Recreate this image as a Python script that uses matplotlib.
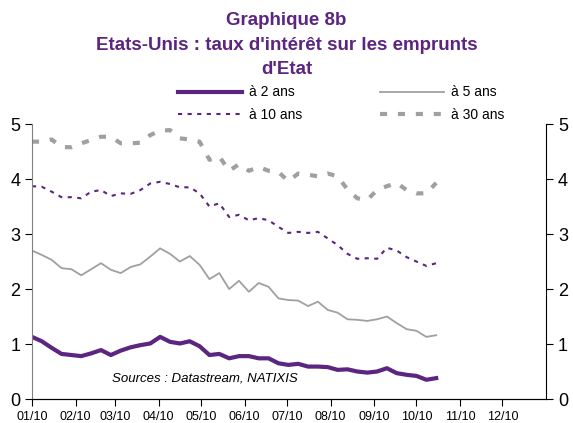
import matplotlib
matplotlib.use("Agg")
import matplotlib.pyplot as plt
import matplotlib.dates as mdates
import pandas as pd

plt.rcParams['font.family'] = ['Liberation Sans', 'DejaVu Sans']

# weekly observations, 2010
dates = pd.date_range("2010-01-01", periods=42, freq="7D")
months = pd.date_range("2010-01-01", periods=12, freq="MS")

rate_2y = [1.13, 1.05, 0.93, 0.82, 0.80, 0.78, 0.83, 0.89, 0.80, 0.88,
           0.94, 0.98, 1.01, 1.13, 1.04, 1.01, 1.05, 0.96, 0.80, 0.82,
           0.74, 0.78, 0.78, 0.74, 0.74, 0.65, 0.62, 0.64, 0.59, 0.59,
           0.58, 0.53, 0.54, 0.50, 0.48, 0.50, 0.56, 0.47, 0.44, 0.42,
           0.35, 0.38]
rate_5y = [2.70, 2.62, 2.53, 2.38, 2.36, 2.25, 2.36, 2.47, 2.35, 2.29,
           2.40, 2.45, 2.59, 2.74, 2.64, 2.50, 2.60, 2.44, 2.18, 2.29,
           2.00, 2.15, 1.95, 2.11, 2.04, 1.83, 1.80, 1.79, 1.69, 1.77,
           1.62, 1.57, 1.45, 1.44, 1.42, 1.45, 1.50, 1.38, 1.27, 1.24,
           1.13, 1.16]
rate_10y = [3.87, 3.86, 3.77, 3.67, 3.67, 3.65, 3.77, 3.80, 3.69, 3.74,
            3.73, 3.80, 3.92, 3.95, 3.91, 3.85, 3.85, 3.74, 3.50, 3.56,
            3.31, 3.35, 3.25, 3.29, 3.25, 3.13, 3.02, 3.04, 3.02, 3.04,
            2.92, 2.80, 2.64, 2.55, 2.56, 2.55, 2.75, 2.70, 2.58, 2.50,
            2.42, 2.47]
rate_30y = [4.68, 4.68, 4.72, 4.58, 4.58, 4.65, 4.71, 4.77, 4.77, 4.65,
            4.65, 4.66, 4.80, 4.88, 4.89, 4.74, 4.72, 4.68, 4.35, 4.41,
            4.15, 4.27, 4.15, 4.22, 4.15, 4.13, 3.96, 4.10, 4.08, 4.05,
            4.10, 4.05, 3.81, 3.65, 3.62, 3.80, 3.87, 3.93, 3.80, 3.74,
            3.74, 3.93]

purple = "#5B2580"
grey = "#A0A0A0"

fig = plt.figure(figsize=(5.73, 4.23), dpi=100)
ax = fig.add_axes([0.0558, 0.0567, 0.8972, 0.650])

l2, = ax.plot(dates, rate_2y, color=purple, lw=3, label="à 2 ans")
l5, = ax.plot(dates, rate_5y, color=grey, lw=1.3, label="à 5 ans")
l10, = ax.plot(dates, rate_10y, color=purple, lw=1.5, dashes=(2, 2.6), label="à 10 ans")
l30, = ax.plot(dates, rate_30y, color=grey, lw=3, dashes=(1.7, 2.6), label="à 30 ans")

ax.set_xlim(pd.Timestamp("2010-01-01"), pd.Timestamp("2011-01-01"))
ax.set_ylim(0, 5)
ax.set_yticks(range(6))
ax.set_xticks(months)
ax.xaxis.set_major_formatter(mdates.DateFormatter("%m/%y"))
ax.tick_params(axis='x', labelsize=9, length=5, direction='out')
ax.tick_params(axis='y', labelsize=13, length=5, direction='out')

ax.spines['top'].set_visible(False)
ax.spines['right'].set_visible(False)
ax.spines['left'].set_color('#808080')

ax2 = ax.twinx()
ax2.set_ylim(0, 5)
ax2.set_yticks(range(6))
ax2.tick_params(axis='y', labelsize=13, length=5, direction='out')
ax2.spines['top'].set_visible(False)
ax2.spines['left'].set_visible(False)

ax.text(0.336, 0.076, "Sources : Datastream, NATIXIS", transform=ax.transAxes,
        ha='center', va='center', fontsize=9.5, style='italic')

fig.text(0.5, 0.972, "Graphique 8b\nEtats-Unis : taux d'intérêt sur les emprunts\nd'Etat",
         ha='center', va='top', fontsize=13.5, fontweight='bold', color=purple,
         linespacing=1.6)

fig.legend([l2, l10, l5, l30], ["à 2 ans", "à 10 ans", "à 5 ans", "à 30 ans"],
           ncol=2, loc='center', bbox_to_anchor=(0.595, 0.755), frameon=False,
           fontsize=10, handlelength=4.6, handletextpad=0.5, columnspacing=5.6,
           labelspacing=0.6, borderpad=0)

fig.savefig("out.png", dpi=100)
